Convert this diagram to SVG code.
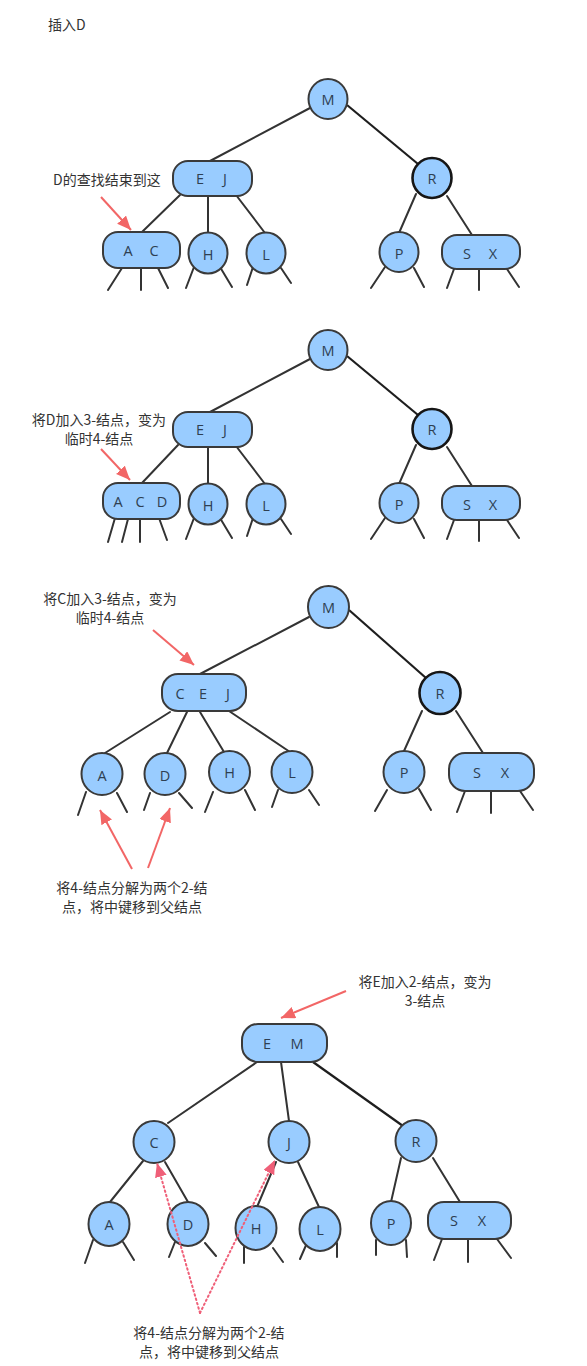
<svg xmlns="http://www.w3.org/2000/svg" width="587" height="1366" viewBox="0 0 587 1366">
<style>
.n{fill:#99ccff;stroke:#3a3a3a;stroke-width:2}
.nb{fill:#99ccff;stroke:#161616;stroke-width:2.6}
.k{font-family:"Open Sans","Noto Sans",sans-serif;font-size:14.5px;fill:#2e3f52;text-anchor:middle;dominant-baseline:central}
.lb{font-family:"Noto Sans CJK SC","Noto Sans",sans-serif;font-size:14px;fill:#333}
.c{text-anchor:middle}
.e{stroke:#333;stroke-width:2;fill:none;stroke-linecap:round}
.ed{stroke:#1e1e1e;stroke-width:2.2;fill:none}
.ar{stroke:#f26666;stroke-width:2;fill:none}
.dt{stroke:#ef5f78;stroke-width:2;fill:none;stroke-dasharray:1.5 3;stroke-linecap:round}
</style>
<defs>
<marker id="ah" markerUnits="userSpaceOnUse" markerWidth="16" markerHeight="14" refX="14" refY="6" orient="auto">
<path d="M0,0 L14,6 L0,12 Z" fill="#f26666"/>
</marker>
<marker id="ahd" markerUnits="userSpaceOnUse" markerWidth="16" markerHeight="14" refX="14" refY="6" orient="auto">
<path d="M0,0 L14,6 L0,12 Z" fill="#ef5f78"/>
</marker>
</defs>
<rect width="587" height="1366" fill="#fff"/>

<g id="connectors">
<!-- panel 1 -->
<path class="e" d="M310,108 L210,161"/>
<path class="ed" d="M347,105 L418,164"/>
<path class="e" d="M180,195 L142,232"/>
<path class="e" d="M208,196 L208,233"/>
<path class="e" d="M236,195 L265,233"/>
<path class="e" d="M416,194 L399,233"/>
<path class="e" d="M447,196 L472,235"/>
<path class="e" d="M122,268 L108,290 M141,268 L141,290 M158,268 L168,288 M194,267 L186,288 M220,267 L232,287 M253,267 L247,285 M281,268 L291,283 M385,267 L371,288 M414,268 L424,287 M454,269 L447,288 M479,270 L479,290 M507,269 L519,287"/>
<!-- panel 2 -->
<path class="e" d="M310,359 L210,412"/>
<path class="ed" d="M347,356 L418,415"/>
<path class="e" d="M178,445 L142,483"/>
<path class="e" d="M208,447 L208,484"/>
<path class="e" d="M236,446 L265,484"/>
<path class="e" d="M416,445 L399,484"/>
<path class="e" d="M447,447 L472,486"/>
<path class="e" d="M115,518 L108,542 M128,519 L122,542 M140,519 L140,542 M159,518 L167,540 M194,518 L186,539 M220,518 L232,538 M253,518 L247,536 M281,519 L291,534 M385,518 L371,539 M414,519 L424,538 M454,520 L447,539 M479,521 L479,541 M507,520 L519,538"/>
<!-- panel 3 -->
<path class="e" d="M309,617 L200,674"/>
<path class="ed" d="M349,610 L426,678"/>
<path class="e" d="M170,712 L105,753"/>
<path class="e" d="M187,712 L167,753"/>
<path class="e" d="M200,712 L224,752"/>
<path class="e" d="M229,711 L290,752"/>
<path class="e" d="M422,711 L404,751"/>
<path class="e" d="M456,711 L483,753"/>
<path class="e" d="M86,792 L78,815 M117,793 L127,812 M150,793 L144,810 M179,793 L192,808 M213,792 L205,812 M245,790 L255,810 M278,790 L272,807 M309,790 L319,805 M387,790 L375,811 M419,789 L431,810 M465,791 L457,812 M491,791 L491,813 M520,791 L533,810"/>
<!-- panel 4 -->
<path class="e" d="M257,1062 L168,1123"/>
<path class="e" d="M281,1062 L289,1121"/>
<path class="ed" d="M313,1062 L403,1126"/>
<path class="e" d="M143,1161 L110,1202"/>
<path class="e" d="M165,1162 L188,1202"/>
<path class="e" d="M276,1162 L257,1207"/>
<path class="e" d="M298,1162 L319,1207"/>
<path class="e" d="M401,1158 L391,1202"/>
<path class="e" d="M433,1158 L460,1202"/>
<path class="e" d="M93,1240 L85,1263 M123,1242 L134,1260 M175,1242 L169,1257 M205,1243 L216,1256 M244,1247 L244,1263 M273,1248 L283,1262 M307,1243 L300,1259 M337,1243 L337,1257 M376,1240 L376,1255 M406,1240 L407,1257 M442,1239 L434,1260 M468,1239 L468,1262 M497,1239 L511,1258"/>
</g>

<g id="nodes">
<!-- panel 1 -->
<g id="p1-M"><ellipse class="n" cx="328" cy="99" rx="19.5" ry="20"/><text class="k" x="328" y="99">M</text></g>
<g id="p1-EJ"><rect class="n" x="173" y="161" width="79" height="35" rx="15"/><text class="k" x="200" y="178">E</text><text class="k" x="225" y="178">J</text></g>
<g id="p1-R"><ellipse class="nb" cx="432" cy="178" rx="19.5" ry="20"/><text class="k" x="432" y="178">R</text></g>
<g id="p1-AC"><rect class="n" x="103" y="232" width="77" height="36" rx="15"/><text class="k" x="128" y="250">A</text><text class="k" x="154" y="250">C</text></g>
<g id="p1-H"><ellipse class="n" cx="208" cy="253" rx="19.5" ry="20.5"/><text class="k" x="208" y="254">H</text></g>
<g id="p1-L"><ellipse class="n" cx="266" cy="253" rx="19.5" ry="20.5"/><text class="k" x="266" y="254">L</text></g>
<g id="p1-P"><ellipse class="n" cx="399" cy="252" rx="19.5" ry="20"/><text class="k" x="399" y="253">P</text></g>
<g id="p1-SX"><rect class="n" x="442" y="235" width="78" height="34" rx="15"/><text class="k" x="467" y="253">S</text><text class="k" x="493" y="253">X</text></g>
<!-- panel 2 -->
<g id="p2-M"><ellipse class="n" cx="328" cy="350" rx="19.5" ry="20"/><text class="k" x="328" y="350">M</text></g>
<g id="p2-EJ"><rect class="n" x="173" y="412" width="79" height="35" rx="15"/><text class="k" x="200" y="429">E</text><text class="k" x="225" y="429">J</text></g>
<g id="p2-R"><ellipse class="nb" cx="432" cy="429" rx="19.5" ry="20"/><text class="k" x="432" y="429">R</text></g>
<g id="p2-ACD"><rect class="n" x="103" y="483" width="77" height="36" rx="15"/><text class="k" x="118" y="501">A</text><text class="k" x="140" y="501">C</text><text class="k" x="162" y="501">D</text></g>
<g id="p2-H"><ellipse class="n" cx="208" cy="504" rx="19.5" ry="20.5"/><text class="k" x="208" y="505">H</text></g>
<g id="p2-L"><ellipse class="n" cx="266" cy="504" rx="19.5" ry="20.5"/><text class="k" x="266" y="505">L</text></g>
<g id="p2-P"><ellipse class="n" cx="399" cy="503" rx="19.5" ry="20"/><text class="k" x="399" y="504">P</text></g>
<g id="p2-SX"><rect class="n" x="442" y="486" width="78" height="34" rx="15"/><text class="k" x="467" y="504">S</text><text class="k" x="493" y="504">X</text></g>
<!-- panel 3 -->
<g id="p3-M"><ellipse class="n" cx="328.5" cy="607" rx="20.5" ry="21"/><text class="k" x="328.5" y="607">M</text></g>
<g id="p3-CEJ"><rect class="n" x="162" y="674" width="84" height="37" rx="16"/><text class="k" x="180" y="693">C</text><text class="k" x="203" y="693">E</text><text class="k" x="228" y="693">J</text></g>
<g id="p3-R"><ellipse class="nb" cx="440" cy="693" rx="20.5" ry="21"/><text class="k" x="440" y="693">R</text></g>
<g id="p3-A"><ellipse class="n" cx="102" cy="774" rx="20.5" ry="21"/><text class="k" x="102" y="775">A</text></g>
<g id="p3-D"><ellipse class="n" cx="165" cy="774" rx="20.5" ry="21"/><text class="k" x="165" y="775">D</text></g>
<g id="p3-H"><ellipse class="n" cx="229.5" cy="772" rx="20.5" ry="21"/><text class="k" x="229.5" y="772">H</text></g>
<g id="p3-L"><ellipse class="n" cx="292" cy="772" rx="20.5" ry="21"/><text class="k" x="292" y="772">L</text></g>
<g id="p3-P"><ellipse class="n" cx="404" cy="772" rx="20.5" ry="21"/><text class="k" x="404" y="772">P</text></g>
<g id="p3-SX"><rect class="n" x="449" y="753" width="85" height="38" rx="16"/><text class="k" x="477" y="772">S</text><text class="k" x="505" y="772">X</text></g>
<!-- panel 4 -->
<g id="p4-EM"><rect class="n" x="242" y="1024" width="85" height="38" rx="16"/><text class="k" x="267" y="1043">E</text><text class="k" x="297" y="1043">M</text></g>
<g id="p4-C"><ellipse class="n" cx="154" cy="1142" rx="20.5" ry="21"/><text class="k" x="154" y="1142">C</text></g>
<g id="p4-J"><ellipse class="n" cx="289" cy="1142" rx="20.5" ry="21"/><text class="k" x="289" y="1142">J</text></g>
<g id="p4-R"><ellipse class="n" cx="416" cy="1141" rx="20.5" ry="21"/><text class="k" x="416" y="1141">R</text></g>
<g id="p4-A"><ellipse class="n" cx="109" cy="1224" rx="20.5" ry="22"/><text class="k" x="109" y="1224">A</text></g>
<g id="p4-D"><ellipse class="n" cx="188" cy="1224" rx="20.5" ry="22"/><text class="k" x="188" y="1224">D</text></g>
<g id="p4-H"><ellipse class="n" cx="256" cy="1228" rx="20.5" ry="22"/><text class="k" x="256" y="1228">H</text></g>
<g id="p4-L"><ellipse class="n" cx="320" cy="1229" rx="20.5" ry="22"/><text class="k" x="320" y="1229">L</text></g>
<g id="p4-P"><ellipse class="n" cx="391" cy="1223" rx="20" ry="22"/><text class="k" x="391" y="1223">P</text></g>
<g id="p4-SX"><rect class="n" x="428" y="1202" width="83" height="37" rx="16"/><text class="k" x="454" y="1220">S</text><text class="k" x="482" y="1220">X</text></g>
</g>

<g id="annotations">
<text class="lb" x="48" y="30">插入D</text>
<text class="lb" x="53" y="185">D的查找结束到这</text>
<path class="ar" d="M101,197 L131,230" marker-end="url(#ah)"/>
<text class="lb c" x="99" y="425" font-size="13">将D加入3-结点，变为</text>
<text class="lb c" x="99" y="443.5" font-size="13">临时4-结点</text>
<path class="ar" d="M101,449 L130,480" marker-end="url(#ah)"/>
<text class="lb c" x="110" y="604">将C加入3-结点，变为</text>
<text class="lb c" x="110" y="623">临时4-结点</text>
<path class="ar" d="M153,630 L194,665" marker-end="url(#ah)"/>
<path class="ar" d="M132,869 L100,810" marker-end="url(#ah)"/>
<path class="ar" d="M148,868 L170,808" marker-end="url(#ah)"/>
<text class="lb c" x="132" y="893">将4-结点分解为两个2-结</text>
<text class="lb c" x="132" y="912">点，将中键移到父结点</text>
<text class="lb c" x="425" y="987">将E加入2-结点，变为</text>
<text class="lb c" x="425" y="1006">3-结点</text>
<path class="ar" d="M346,991 L281,1018" marker-end="url(#ah)"/>
<path class="dt" d="M200,1313 L157,1163" marker-end="url(#ahd)"/>
<path class="dt" d="M200,1313 L275,1160" marker-end="url(#ahd)"/>
<text class="lb c" x="209" y="1338">将4-结点分解为两个2-结</text>
<text class="lb c" x="209" y="1357">点，将中键移到父结点</text>
</g>
</svg>
